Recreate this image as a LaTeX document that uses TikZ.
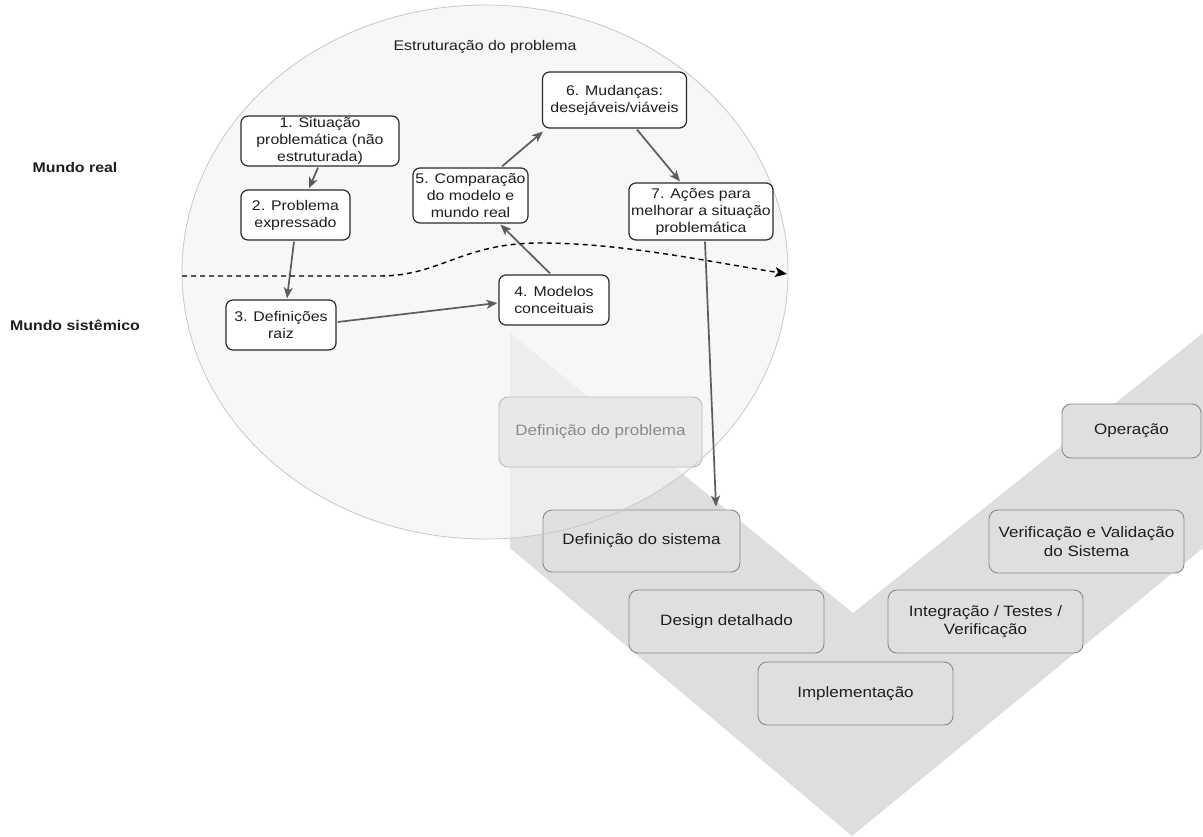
\documentclass[tikz,border=0pt]{standalone}
\usepackage{fontspec}
\setmainfont{Liberation Sans}[FakeStretch=1.135]
\usetikzlibrary{arrows.meta,calc}

\definecolor{vfill}{HTML}{DEDEDE}
\definecolor{vboxfill}{HTML}{DFDFDF}
\definecolor{vline}{HTML}{8A8A8A}
\definecolor{txt}{HTML}{1E1E1E}
\definecolor{ssmline}{HTML}{2A2A2A}
\definecolor{arrowgray}{HTML}{5C5C5C}
\definecolor{circfill}{HTML}{F4F4F4}
\definecolor{circline}{HTML}{C8C8C8}
\definecolor{fadefill}{HTML}{E8E8E8}
\definecolor{fadeline}{HTML}{BDBDBD}
\definecolor{fadetext}{HTML}{8A8A8A}

\begin{document}
\begin{tikzpicture}[x=1pt,y=-1pt,
  ssm/.style={draw=ssmline, fill=white, rounded corners=7pt, line width=1.2pt,
    align=center, inner sep=0pt, text=txt, font=\fontsize{14}{17}\selectfont},
  vbox/.style={draw=vline, fill=vboxfill, rounded corners=9pt, line width=0.9pt,
    align=center, inner sep=0pt, text=txt, font=\fontsize{15}{18.5}\selectfont},
  flow/.style={draw=arrowgray, line width=1.7pt,
    -{Stealth[length=11pt,width=9pt,inset=3pt]}},
  boundary/.style={draw=black, line width=1.4pt, dash pattern=on 5pt off 4pt,
    -{Stealth[length=12pt,width=10pt,inset=3pt]}},
  side/.style={font=\fontsize{14}{17}\selectfont\bfseries, text=txt},
  ]
\useasboundingbox (0,0) rectangle (1203,837);

% V-model band
\fill[vfill] (510,333) -- (853,613) -- (1203,333) -- (1203,548)
  -- (852,836) -- (510,548) -- cycle;

% soft systems area
\fill[circfill, fill opacity=0.72] (485,272) ellipse [x radius=303, y radius=267];

% first stage, faded inside the circle
\node[vbox, draw=fadeline, fill=fadefill, text=fadetext,
  minimum width=203pt, minimum height=70pt] (dprob) at (600.5,432) {Definição do problema};
\node[vbox, minimum width=197pt, minimum height=62pt] (dsis) at (641.5,541) {Definição do sistema};

\draw[circline, line width=0.8pt] (485,272) ellipse [x radius=303, y radius=267];

% remaining V stages
\node[vbox, minimum width=195pt, minimum height=63pt] (design) at (726.5,621.5) {Design detalhado};
\node[vbox, minimum width=195pt, minimum height=63pt] (impl) at (855.5,693.5) {Implementação};
\node[vbox, minimum width=195pt, minimum height=63pt] (integ) at (985.5,621.5) {Integração / Testes /\\Verificação};
\node[vbox, minimum width=195pt, minimum height=63pt] (vv) at (1086.5,541.5) {Verificação e Validação\\do Sistema};
\node[vbox, minimum width=139pt, minimum height=54pt] (oper) at (1131.5,431) {Operação};

% labels
\node[font=\fontsize{14}{17}\selectfont, text=txt] (title) at (485,47) {Estruturação do problema};
\node[side] (real) at (75,167) {Mundo real};
\node[side] (sist) at (75,325) {Mundo sistêmico};

% SSM stages
\node[ssm, minimum width=158pt, minimum height=50pt] (s1) at (320,141) {1. Situação\\problemática (não\\estruturada)};
\node[ssm, minimum width=109pt, minimum height=50pt] (s2) at (295.5,215) {2. Problema\\expressado};
\node[ssm, minimum width=110pt, minimum height=50pt] (s3) at (281,325) {3. Definições\\raiz};
\node[ssm, minimum width=110pt, minimum height=50pt] (s4) at (554,300) {4. Modelos\\conceituais};
\node[ssm, minimum width=115pt, minimum height=55pt] (s5) at (470.5,195.5) {5. Comparação\\do modelo e\\mundo real};
\node[ssm, minimum width=144pt, minimum height=56pt] (s6) at (614.5,100) {6. Mudanças:\\desejáveis/viáveis};
\node[ssm, minimum width=144pt, minimum height=57pt] (s7) at (701,211.5) {7. Ações para\\melhorar a situação\\problemática};

% flow between stages
\draw[flow] ($(s1.south)+(-2,1)$) -- ($(s2.north)+(13.5,-1)$);
\draw[flow] ($(s2.south)+(-1.5,1)$) -- ($(s3.north)+(6,-1)$);
\draw[flow] ($(s3.east)+(1,-3)$) -- ($(s4.west)+(-1,3)$);
\draw[flow] ($(s4.north)+(-4,-1)$) -- ($(s5.south)+(30,1)$);
\draw[flow] ($(s5.north)+(31.5,-1)$) -- ($(s6.south west)+(1,3)$);
\draw[flow] ($(s6.south)+(22.5,1)$) -- ($(s7.north)+(-21,-1)$);
\draw[flow] ($(s7.south)+(4,1)$) -- ($(dsis.north)+(74.5,-3)$);

% boundary between real and systemic world
\coordinate (dstart) at (182,276);
\coordinate (dend) at (787,274);
\draw[boundary] (dstart) -- (380,276) .. controls (440,276) and (462,243) .. (540,243)
  .. controls (620,243) and (700,260) .. (dend);
\end{tikzpicture}
\end{document}
